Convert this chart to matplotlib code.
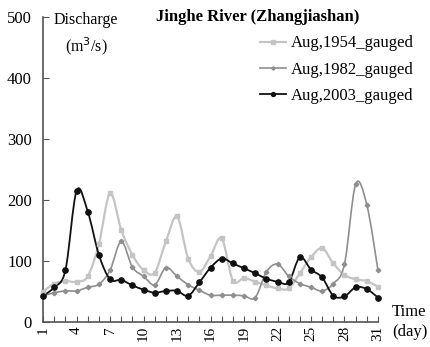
import numpy as np
import matplotlib
matplotlib.use("Agg")
import matplotlib.pyplot as plt
from matplotlib.path import Path
from matplotlib.patches import PathPatch
from matplotlib.lines import Line2D

days = list(range(1, 32))
q1954 = [50, 63, 67, 66, 75, 128, 211, 151, 110, 85, 81, 132, 173, 104, 82, 108,
         137, 68, 72, 66, 60, 55, 55, 80, 106, 121, 96, 77, 70, 67, 58]
q1982 = [43, 48, 51, 51, 57, 62, 85, 132, 90, 75, 61, 89, 75, 61, 52, 44,
         44, 44, 43, 40, 82, 95, 75, 63, 57, 51, 63, 95, 226, 192, 85]
q2003 = [43, 57, 85, 215, 181, 110, 70, 69, 60, 53, 48, 51, 51, 43, 65, 89,
         104, 96, 88, 80, 71, 66, 65, 106, 86, 73, 43, 42, 57, 54, 40]
labels = ["Aug,1954_gauged", "Aug,1982_gauged", "Aug,2003_gauged"]
xtick_labels = ["1", "4", "7", "10", "13", "16", "19", "22", "25", "28", "31"]
yticks = [0, 100, 200, 300, 400, 500]

plt.rcParams['font.family'] = ['Liberation Serif', 'DejaVu Serif']

fig = plt.figure(figsize=(4.31, 3.47), dpi=100)
ax = fig.add_axes([0.100, 0.072, 0.777, 0.879])


def smooth_path(x, y):
    x = np.asarray(x, float)
    y = np.asarray(y, float)
    verts = [(x[0], y[0])]
    codes = [Path.MOVETO]
    n = len(x)
    for i in range(n - 1):
        x0, y0 = (x[i - 1], y[i - 1]) if i > 0 else (x[i], y[i])
        x3, y3 = (x[i + 2], y[i + 2]) if i + 2 < n else (x[i + 1], y[i + 1])
        c1 = (x[i] + (x[i + 1] - x0) / 6.0, y[i] + (y[i + 1] - y0) / 6.0)
        c2 = (x[i + 1] - (x3 - x[i]) / 6.0, y[i + 1] - (y3 - y[i]) / 6.0)
        verts += [c1, c2, (x[i + 1], y[i + 1])]
        codes += [Path.CURVE4] * 3
    return Path(verts, codes)


series = [
    (q1954, '#c4c4c4', 's', 3.0, 1.6),
    (q1982, '#8e8e8e', 'D', 2.3, 1.2),
    (q2003, '#111111', 'o', 3.8, 1.3),
]
handles = []
for (vals, col, mk, ms, lw), lab in zip(series, labels):
    patch = PathPatch(smooth_path(days, vals), facecolor='none', edgecolor=col,
                      lw=lw, clip_on=False, zorder=2)
    ax.add_patch(patch)
    ax.plot(days, vals, linestyle='none', marker=mk, ms=ms, color=col,
            mec=col, clip_on=False, zorder=3)
    handles.append(Line2D([0], [0], color=col, lw=lw, marker=mk, ms=ms * 0.75))

ax.set_xlim(1, 31)
ax.set_ylim(0, 500)
for s in ['top', 'right']:
    ax.spines[s].set_visible(False)
for s in ['left', 'bottom']:
    ax.spines[s].set_color('#555555')
    ax.spines[s].set_linewidth(1.2)

ax.set_xticks(days)
ax.set_xticklabels([str(d) if str(d) in xtick_labels else '' for d in days],
                   rotation=90, fontsize=11)
ax.set_yticks(yticks)
ax.set_yticklabels([str(v) for v in yticks], fontsize=12)
ax.tick_params(axis='x', direction='in', length=4, width=0.8, color='#555555', pad=3)
ax.tick_params(axis='y', direction='in', length=4, width=0.8, color='#555555', pad=8)

ax.text(0.030, 0.990, "Discharge", transform=ax.transAxes, fontsize=11.5,
        ha='left', va='center')
ax.text(0.066, 0.905, "(m$^3$/s)", transform=ax.transAxes, fontsize=11.5,
        ha='left', va='center')
fig.text(0.597, 0.951, "Jinghe River (Zhangjiashan)", fontsize=12,
         fontweight='bold', ha='center', va='center')
fig.text(0.908, 0.100, "Time", fontsize=12, ha='left', va='center')
fig.text(0.910, 0.043, "(day)", fontsize=12, ha='left', va='center')

fig.legend(handles, labels, loc='upper left', bbox_to_anchor=(0.603, 0.898),
           frameon=False, fontsize=12, handlelength=1.55, handletextpad=0.3,
           labelspacing=0.62, borderaxespad=0, borderpad=0)

fig.savefig("out.png", dpi=100)
